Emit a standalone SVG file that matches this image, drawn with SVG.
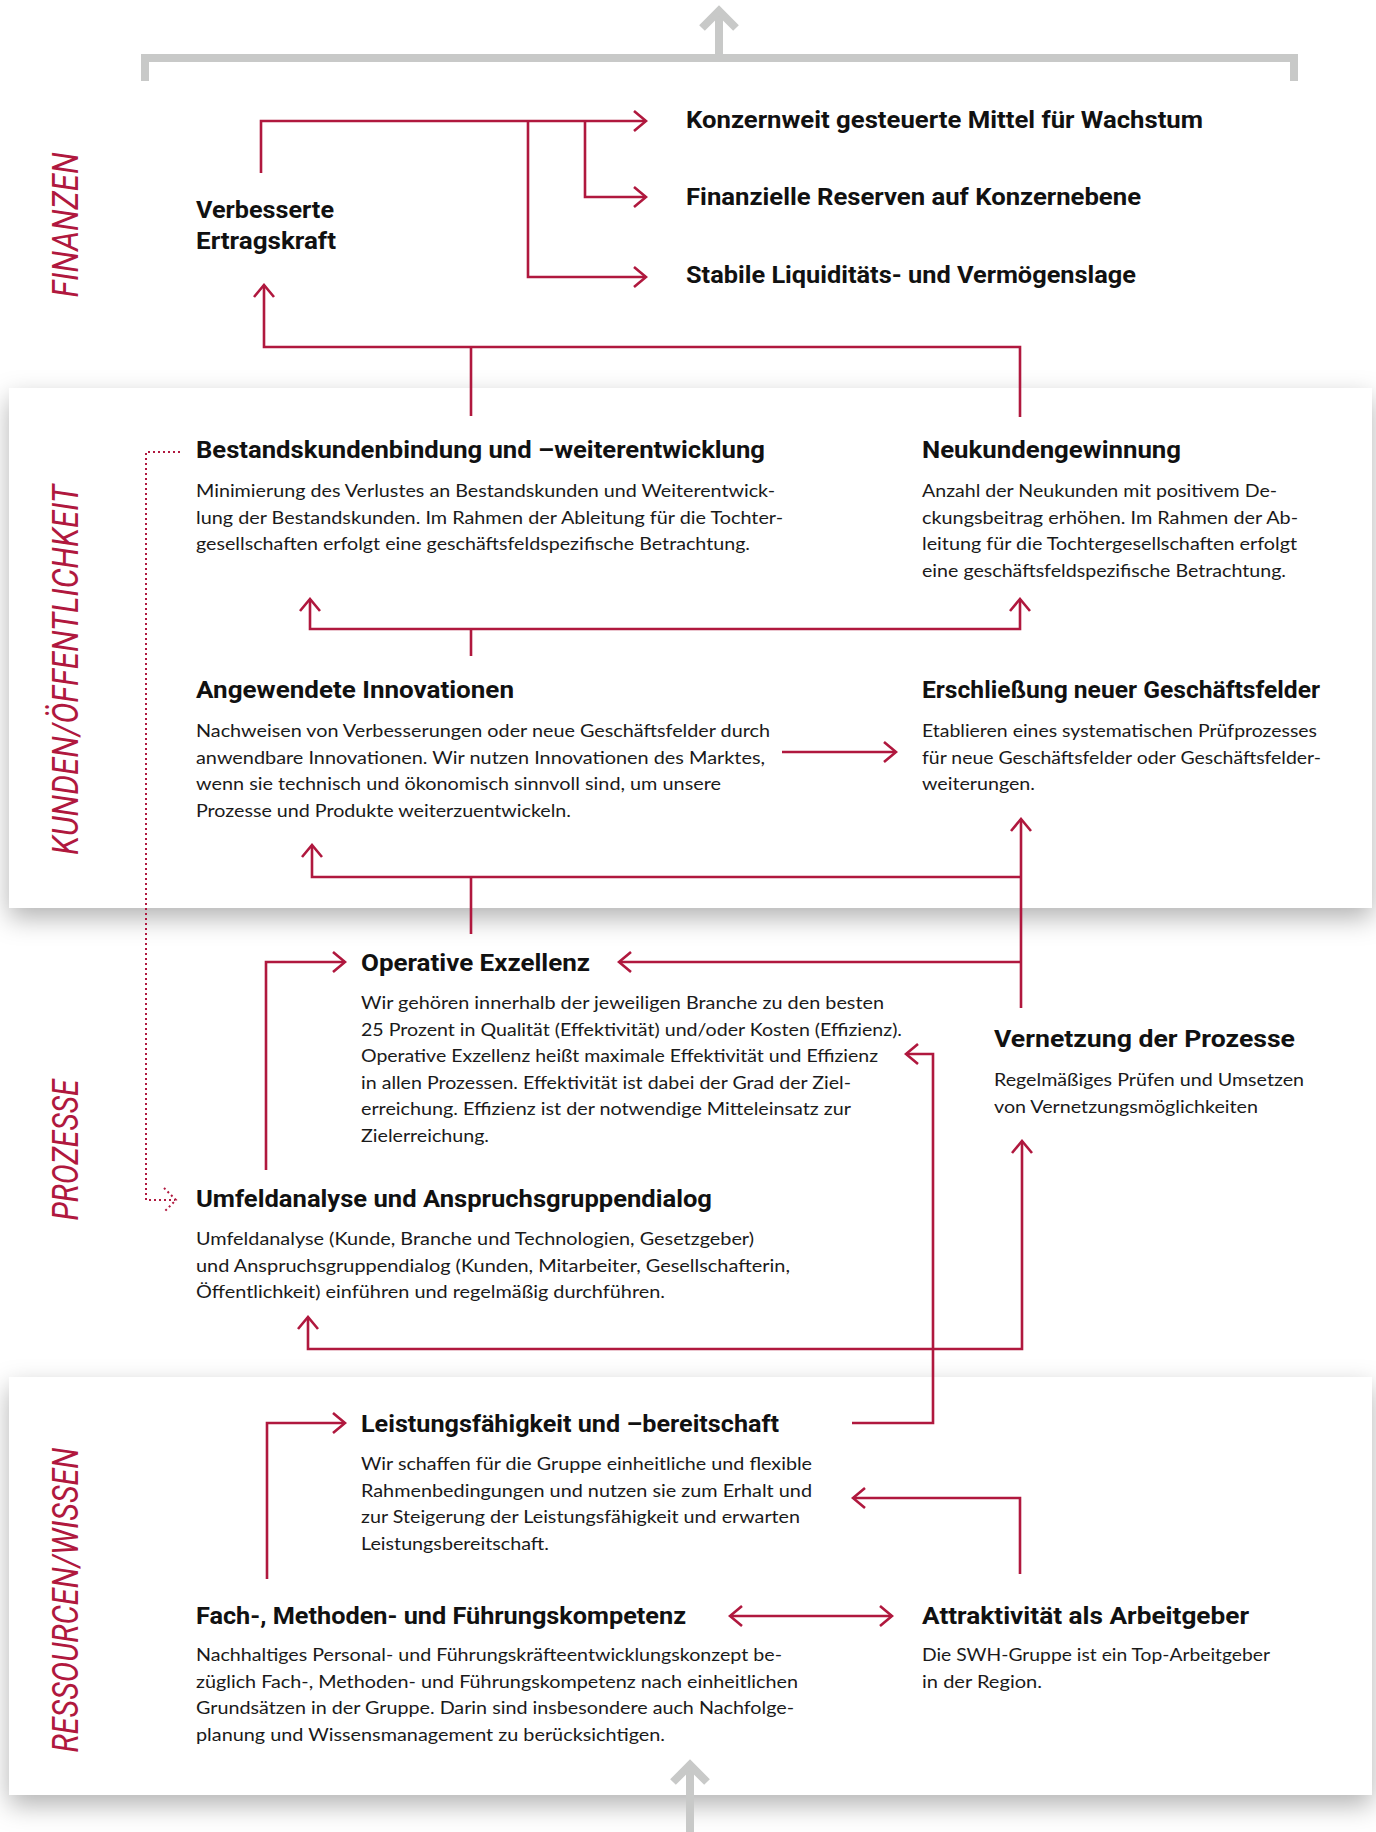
<svg xmlns="http://www.w3.org/2000/svg" width="1376" height="1832" viewBox="0 0 1376 1832">
<defs>
<style>
.t{font-family:Roboto,"Liberation Sans",sans-serif;font-weight:700;font-size:24px;fill:#111;}
.b{font-family:Lato,"Liberation Sans",sans-serif;font-weight:400;font-size:18px;fill:#1a1a1a;}
.sec{font-family:Roboto,"Liberation Sans",sans-serif;font-style:italic;font-weight:400;font-size:36px;fill:#b0183e;}
.c{fill:none;stroke:#b0183e;stroke-width:2.6;}
.d{fill:none;stroke:#b0183e;stroke-width:2;stroke-dasharray:2 3;}
.g{fill:none;stroke:#c8c9c8;stroke-width:8;}
</style>
<marker id="ah" viewBox="-14 -12 16 24" markerWidth="16" markerHeight="24" refX="0" refY="0" orient="auto-start-reverse" markerUnits="userSpaceOnUse">
<path d="M-12,-10 L0,0 L-12,10" fill="none" stroke="#b0183e" stroke-width="2.6"/>
</marker>
<filter id="sh" x="-5%" y="-10%" width="110%" height="125%">
<feDropShadow dx="0" dy="10" stdDeviation="13" flood-color="#000" flood-opacity="0.3"/>
</filter>
</defs>
<rect width="1376" height="1832" fill="#fff"/>
<g id="panels">
<rect x="9" y="388" width="1363" height="520" fill="#fff" filter="url(#sh)"/>
<rect x="9" y="1377" width="1363" height="418" fill="#fff" filter="url(#sh)"/>
</g>
<g id="section-labels">
<text class="sec" transform="translate(78,225) rotate(-90)" text-anchor="middle" textLength="145" lengthAdjust="spacingAndGlyphs">FINANZEN</text>
<text class="sec" transform="translate(78,670) rotate(-90)" text-anchor="middle" textLength="370" lengthAdjust="spacingAndGlyphs">KUNDEN/ÖFFENTLICHKEIT</text>
<text class="sec" transform="translate(78,1150) rotate(-90)" text-anchor="middle" textLength="141" lengthAdjust="spacingAndGlyphs">PROZESSE</text>
<text class="sec" transform="translate(78,1600) rotate(-90)" text-anchor="middle" textLength="305" lengthAdjust="spacingAndGlyphs">RESSOURCEN/WISSEN</text>
</g>
<g id="connectors">
<path class="g" d="M145,81 V58 H1294 V81"/>
<path class="g" d="M719,58 V11"/>
<path class="g" d="M702,28 L719,11 L736,28" stroke-linejoin="miter"/>
<path class="g" d="M690,1832 V1765"/>
<path class="g" d="M673,1782 L690,1765 L707,1782" stroke-linejoin="miter"/>
<path class="c" d="M261,173 V121 H646" marker-end="url(#ah)"/>
<path class="c" d="M528,121 V277 H646" marker-end="url(#ah)"/>
<path class="c" d="M585,121 V197 H646" marker-end="url(#ah)"/>
<path class="c" d="M1020,417 V347 H264 V285" marker-end="url(#ah)"/>
<path class="c" d="M471,416 V347"/>
<path class="c" d="M310,599 V629 H1020 V599" marker-start="url(#ah)" marker-end="url(#ah)"/>
<path class="c" d="M471,656 V629"/>
<path class="c" d="M782,752 H896" marker-end="url(#ah)"/>
<path class="c" d="M312,845 V877 H1021" marker-start="url(#ah)"/>
<path class="c" d="M471,877 V934"/>
<path class="c" d="M1021,1008 V819" marker-end="url(#ah)"/>
<path class="c" d="M1021,962 H619" marker-end="url(#ah)"/>
<path class="c" d="M266,1170 V962 H345" marker-end="url(#ah)"/>
<path class="c" d="M852,1423 H933 V1054 H906" marker-end="url(#ah)"/>
<path class="c" d="M308,1317 V1349 H1022 V1141" marker-start="url(#ah)" marker-end="url(#ah)"/>
<path class="c" d="M267,1579 V1423 H345" marker-end="url(#ah)"/>
<path class="c" d="M1020,1574 V1498 H853" marker-end="url(#ah)"/>
<path class="c" d="M730,1616 H892" marker-start="url(#ah)" marker-end="url(#ah)"/>
<path class="d" d="M180,452 H146 V1200 H175"/>
<path class="d" d="M164,1188 L176,1200 L164,1212"/>
</g>
<g id="node-konzernweit"><text class="t" x="686" y="128" textLength="517" lengthAdjust="spacingAndGlyphs">Konzernweit gesteuerte Mittel für Wachstum</text></g>
<g id="node-reserven"><text class="t" x="686" y="205" textLength="455" lengthAdjust="spacingAndGlyphs">Finanzielle Reserven auf Konzernebene</text></g>
<g id="node-liquiditaet"><text class="t" x="686" y="283" textLength="450" lengthAdjust="spacingAndGlyphs">Stabile Liquiditäts- und Vermögenslage</text></g>
<g id="node-ertragskraft">
<text class="t" x="196" y="218" textLength="138" lengthAdjust="spacingAndGlyphs">Verbesserte</text>
<text class="t" x="196" y="249" textLength="140" lengthAdjust="spacingAndGlyphs">Ertragskraft</text>
</g>
<g id="node-bestandskunden">
<text class="t" x="196" y="458" textLength="569" lengthAdjust="spacingAndGlyphs">Bestandskundenbindung und –weiterentwicklung</text>
<text class="b" x="196" y="497" textLength="579" lengthAdjust="spacingAndGlyphs">Minimierung des Verlustes an Bestandskunden und Weiterentwick-</text>
<text class="b" x="196" y="523.5" textLength="587" lengthAdjust="spacingAndGlyphs">lung der Bestandskunden. Im Rahmen der Ableitung für die Tochter-</text>
<text class="b" x="196" y="550" textLength="554" lengthAdjust="spacingAndGlyphs">gesellschaften erfolgt eine geschäftsfeldspezifische Betrachtung.</text>
</g>
<g id="node-neukunden">
<text class="t" x="922" y="458" textLength="259" lengthAdjust="spacingAndGlyphs">Neukundengewinnung</text>
<text class="b" x="922" y="497" textLength="355" lengthAdjust="spacingAndGlyphs">Anzahl der Neukunden mit positivem De-</text>
<text class="b" x="922" y="523.5" textLength="376" lengthAdjust="spacingAndGlyphs">ckungsbeitrag erhöhen. Im Rahmen der Ab-</text>
<text class="b" x="922" y="550" textLength="375" lengthAdjust="spacingAndGlyphs">leitung für die Tochtergesellschaften erfolgt</text>
<text class="b" x="922" y="576.5" textLength="364" lengthAdjust="spacingAndGlyphs">eine geschäftsfeldspezifische Betrachtung.</text>
</g>
<g id="node-innovationen">
<text class="t" x="196" y="698" textLength="318" lengthAdjust="spacingAndGlyphs">Angewendete Innovationen</text>
<text class="b" x="196" y="737" textLength="574" lengthAdjust="spacingAndGlyphs">Nachweisen von Verbesserungen oder neue Geschäftsfelder durch</text>
<text class="b" x="196" y="763.5" textLength="569" lengthAdjust="spacingAndGlyphs">anwendbare Innovationen. Wir nutzen Innovationen des Marktes,</text>
<text class="b" x="196" y="790" textLength="525" lengthAdjust="spacingAndGlyphs">wenn sie technisch und ökonomisch sinnvoll sind, um unsere</text>
<text class="b" x="196" y="816.5" textLength="375" lengthAdjust="spacingAndGlyphs">Prozesse und Produkte weiterzuentwickeln.</text>
</g>
<g id="node-geschaeftsfelder">
<text class="t" x="922" y="698" textLength="398" lengthAdjust="spacingAndGlyphs">Erschließung neuer Geschäftsfelder</text>
<text class="b" x="922" y="737" textLength="395" lengthAdjust="spacingAndGlyphs">Etablieren eines systematischen Prüfprozesses</text>
<text class="b" x="922" y="763.5" textLength="399" lengthAdjust="spacingAndGlyphs">für neue Geschäftsfelder oder Geschäftsfelder-</text>
<text class="b" x="922" y="790" textLength="113" lengthAdjust="spacingAndGlyphs">weiterungen.</text>
</g>
<g id="node-exzellenz">
<text class="t" x="361" y="971" textLength="229" lengthAdjust="spacingAndGlyphs">Operative Exzellenz</text>
<text class="b" x="361" y="1009" textLength="523" lengthAdjust="spacingAndGlyphs">Wir gehören innerhalb der jeweiligen Branche zu den besten</text>
<text class="b" x="361" y="1035.5" textLength="541" lengthAdjust="spacingAndGlyphs">25 Prozent in Qualität (Effektivität) und/oder Kosten (Effizienz).</text>
<text class="b" x="361" y="1062" textLength="517" lengthAdjust="spacingAndGlyphs">Operative Exzellenz heißt maximale Effektivität und Effizienz</text>
<text class="b" x="361" y="1088.5" textLength="490" lengthAdjust="spacingAndGlyphs">in allen Prozessen. Effektivität ist dabei der Grad der Ziel-</text>
<text class="b" x="361" y="1115" textLength="490" lengthAdjust="spacingAndGlyphs">erreichung. Effizienz ist der notwendige Mitteleinsatz zur</text>
<text class="b" x="361" y="1141.5" textLength="128" lengthAdjust="spacingAndGlyphs">Zielerreichung.</text>
</g>
<g id="node-vernetzung">
<text class="t" x="994" y="1047" textLength="301" lengthAdjust="spacingAndGlyphs">Vernetzung der Prozesse</text>
<text class="b" x="994" y="1086" textLength="310" lengthAdjust="spacingAndGlyphs">Regelmäßiges Prüfen und Umsetzen</text>
<text class="b" x="994" y="1112.5" textLength="264" lengthAdjust="spacingAndGlyphs">von Vernetzungsmöglichkeiten</text>
</g>
<g id="node-umfeld">
<text class="t" x="196" y="1207" textLength="516" lengthAdjust="spacingAndGlyphs">Umfeldanalyse und Anspruchsgruppendialog</text>
<text class="b" x="196" y="1245" textLength="558" lengthAdjust="spacingAndGlyphs">Umfeldanalyse (Kunde, Branche und Technologien, Gesetzgeber)</text>
<text class="b" x="196" y="1271.5" textLength="594" lengthAdjust="spacingAndGlyphs">und Anspruchsgruppendialog (Kunden, Mitarbeiter, Gesellschafterin,</text>
<text class="b" x="196" y="1298" textLength="469" lengthAdjust="spacingAndGlyphs">Öffentlichkeit) einführen und regelmäßig durchführen.</text>
</g>
<g id="node-leistung">
<text class="t" x="361" y="1432" textLength="418" lengthAdjust="spacingAndGlyphs">Leistungsfähigkeit und –bereitschaft</text>
<text class="b" x="361" y="1470" textLength="451" lengthAdjust="spacingAndGlyphs">Wir schaffen für die Gruppe einheitliche und flexible</text>
<text class="b" x="361" y="1496.5" textLength="451" lengthAdjust="spacingAndGlyphs">Rahmenbedingungen und nutzen sie zum Erhalt und</text>
<text class="b" x="361" y="1523" textLength="439" lengthAdjust="spacingAndGlyphs">zur Steigerung der Leistungsfähigkeit und erwarten</text>
<text class="b" x="361" y="1549.5" textLength="188" lengthAdjust="spacingAndGlyphs">Leistungsbereitschaft.</text>
</g>
<g id="node-kompetenz">
<text class="t" x="196" y="1624" textLength="490" lengthAdjust="spacingAndGlyphs">Fach-, Methoden- und Führungskompetenz</text>
<text class="b" x="196" y="1661" textLength="586" lengthAdjust="spacingAndGlyphs">Nachhaltiges Personal- und Führungskräfteentwicklungskonzept be-</text>
<text class="b" x="196" y="1687.5" textLength="602" lengthAdjust="spacingAndGlyphs">züglich Fach-, Methoden- und Führungskompetenz nach einheitlichen</text>
<text class="b" x="196" y="1714" textLength="598" lengthAdjust="spacingAndGlyphs">Grundsätzen in der Gruppe. Darin sind insbesondere auch Nachfolge-</text>
<text class="b" x="196" y="1740.5" textLength="469" lengthAdjust="spacingAndGlyphs">planung und Wissensmanagement zu berücksichtigen.</text>
</g>
<g id="node-arbeitgeber">
<text class="t" x="922" y="1624" textLength="327" lengthAdjust="spacingAndGlyphs">Attraktivität als Arbeitgeber</text>
<text class="b" x="922" y="1661" textLength="348" lengthAdjust="spacingAndGlyphs">Die SWH-Gruppe ist ein Top-Arbeitgeber</text>
<text class="b" x="922" y="1687.5" textLength="120" lengthAdjust="spacingAndGlyphs">in der Region.</text>
</g>
</svg>
